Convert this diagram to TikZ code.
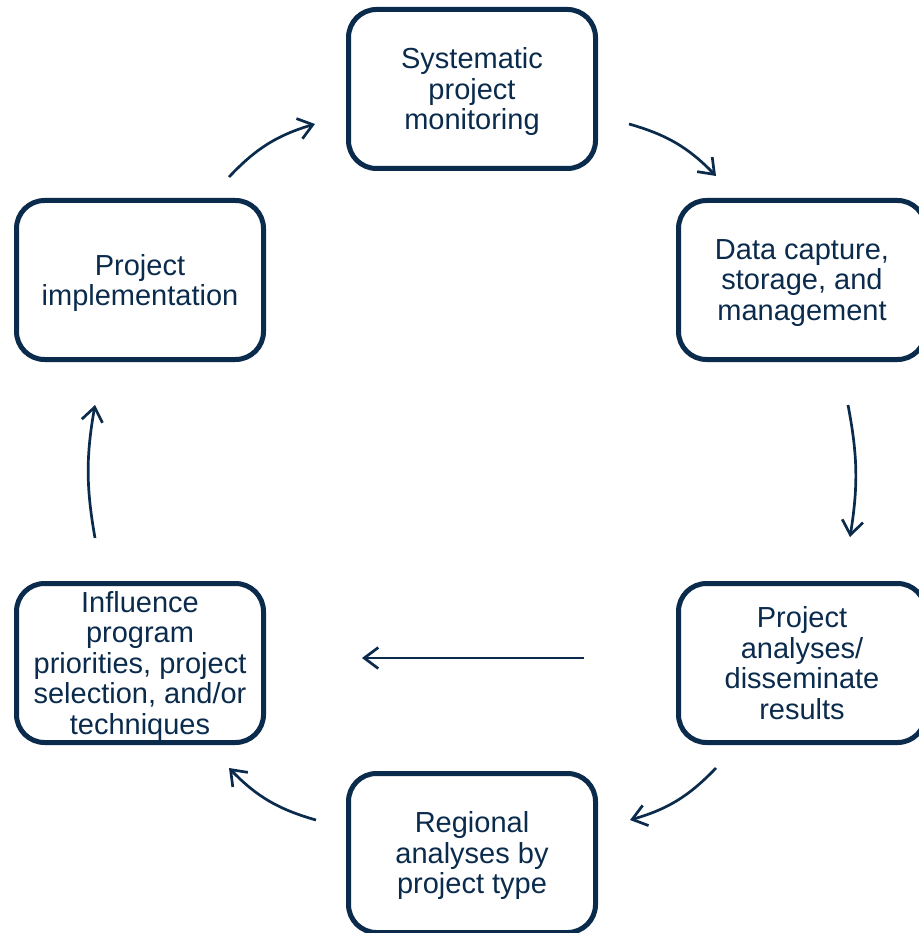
\documentclass[tikz,border=0pt]{standalone}
\usepackage{fontspec}
\setmainfont{Liberation Sans}
\usetikzlibrary{arrows.meta}
\definecolor{navy}{HTML}{0B2B4D}

\begin{document}
\begin{tikzpicture}[x=1pt,y=-1pt,>={Straight Barb[length=14pt,width=21pt]},
  stage/.style={draw=navy,line width=5pt,rounded corners=28pt,minimum width=247pt,minimum height=159pt,
    inner sep=0pt,align=center,text=navy,font=\fontsize{29}{30.5}\selectfont,text depth=0.5pt},
  link/.style={->,draw=navy,line width=2.7pt}]
\useasboundingbox (0,0) rectangle (918,933);
% the six stages of the cycle
\node (monitor) at (472,89) [stage] {Systematic\\project\\monitoring};
\node (capture) at (802,280) [stage] {Data capture,\\storage, and\\management};
\node (results) at (802,663) [stage] {Project\\analyses/\\disseminate\\results};
\node (regional) at (472,853) [stage] {Regional\\analyses by\\project type};
\node (priorities) at (140,663) [stage] {Influence\\program\\priorities, project\\selection, and/or\\techniques};
\node (impl) at (140,280) [stage] {Project\\implementation};
% arrow ends
\coordinate (i-out) at (229,177);
\coordinate (m-in) at (315,124);
\coordinate (m-out) at (629,124);
\coordinate (c-in) at (716,176);
\coordinate (c-out) at (848,405);
\coordinate (r-in) at (850,537);
\coordinate (r-out) at (716,768);
\coordinate (g-in) at (630,820);
\coordinate (g-out) at (316,820);
\coordinate (p-in) at (229,768);
\coordinate (r-left) at (584,658);
\coordinate (p-right) at (362,658);
\coordinate (p-out) at (95,538);
\coordinate (i-in) at (95,405);
\draw[link] (i-out) to[bend left=15] (m-in);
\draw[link] (m-out) to[bend left=15] (c-in);
\draw[link] (c-out) to[bend left=10] (r-in);
\draw[link] (r-out) to[bend left=15] (g-in);
\draw[link] (g-out) to[bend left=15] (p-in);
\draw[link] (r-left) -- (p-right);
\draw[link] (p-out) to[bend left=10] (i-in);
\end{tikzpicture}
\end{document}
